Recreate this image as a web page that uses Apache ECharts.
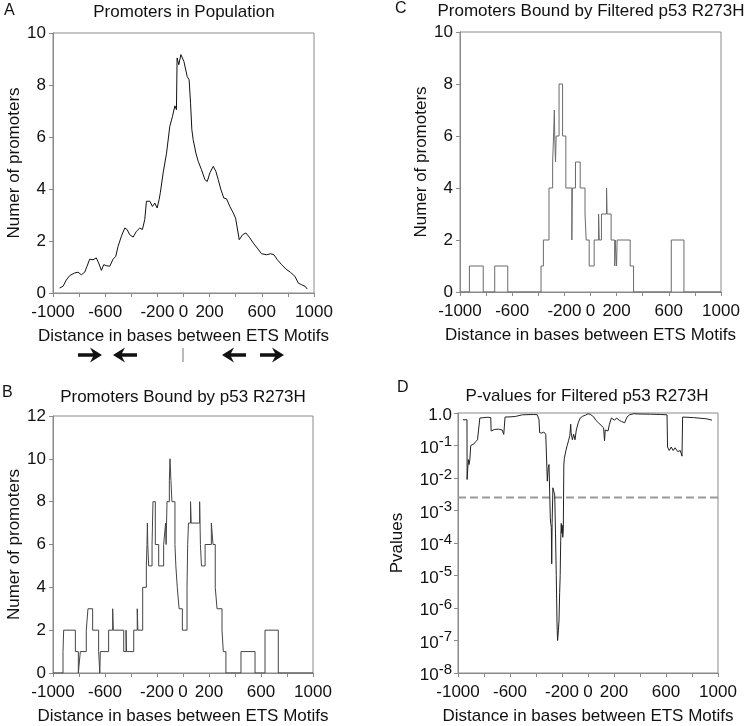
<!DOCTYPE html>
<html>
<head>
<meta charset="utf-8">
<script src="https://cdn.jsdelivr.net/npm/echarts@6/dist/echarts.min.js"></script>
<style>
html,body{margin:0;padding:0;background:#fff;}
#chart{width:748px;height:726px;}
</style>
</head>
<body>
<div id="chart"></div>
<script>
// ---------- DATA ----------
const xLabelsShown = [-1000, -600, -200, 0, 200, 600, 1000];

// Panel A: Promoters in Population  [distance, count]
const populationDist = [-949,-923,-898,-872,-834,-808,-783,-757,-739,-719,-693,-668,-650,-629,-611,-591,-565,-540,-519,-501,-476,-450,-432,-412,-386,-361,-335,-315,-297,-284,-258,-238,-220,-202,-187,-177,-156,-130,-105,-84,-66,-54,-49,-36,-20,-8,3,15,28,43,54,64,74,95,113,138,164,182,202,228,248,266,287,309,330,355,381,399,412,427,453,478,504,535,565,598,637,668,693,719,752,785,821,854,880,905,931,949];
const populationCount = [0.19,0.26,0.5,0.67,0.77,0.8,0.7,0.8,1.03,1.3,1.28,1.35,1.15,0.87,1.09,1.05,1.03,1.3,1.41,1.8,2.18,2.5,2.44,2.24,2.15,2.37,2.5,2.44,2.82,3.53,3.53,3.33,3.46,3.27,3.59,3.87,4.62,5.38,6.41,6.8,7.2,7.05,9.04,8.78,9.17,9.1,8.91,8.95,8.33,8.2,7.3,6.28,5.9,5.38,5.06,4.74,4.36,4.29,4.62,4.87,4.68,4.36,3.97,3.65,3.62,3.33,3.08,2.88,2.82,2.05,2.24,2.31,2.15,1.92,1.73,1.51,1.47,1.51,1.47,1.28,1.09,0.92,0.79,0.64,0.38,0.32,0.26,0.15];

// Panel B: Promoters Bound by p53 R273H (step: value holds from x until next x)
const boundAll = [[-1000,0],[-923,1],[-918,2],[-828,1],[-805,0],[-790,1],[-744,2],[-731,3],[-695,2],[-649,1],[-640,0],[-636,1],[-572,2],[-541,3],[-536,2],[-456,1],[-438,2],[-434,1],[-379,2],[-352,3],[-347,2],[-310,4],[-282,5],[-277,6],[-274,7],[-271,6],[-264,5],[-238,6],[-231,8],[-213,6],[-187,5],[-149,6],[-134,7],[-130,6],[-123,8],[-105,9],[-100,10],[-93,9],[-85,8],[-62,6],[-55,5],[-44,4],[-30,3],[-5,2],[31,4],[36,6],[42,7],[58,8],[63,7],[128,8],[134,6],[142,5],[170,6],[218,7],[231,6],[248,4],[262,3],[300,2],[310,1],[330,0],[446,1],[554,0],[631,2],[733,0],[1000,0]];

// Panel C: Promoters Bound by Filtered p53 R273H
const boundFiltered = [[-1000,0],[-928,1],[-822,0],[-734,1],[-634,0],[-379,1],[-361,2],[-318,4],[-290,5],[-283,6],[-277,7],[-274,6],[-268,5],[-263,6],[-241,8],[-214,6],[-189,4],[-143,2],[-139,4],[-115,5],[-79,4],[-42,3],[-33,2],[-10,1],[28,2],[62,3],[67,2],[84,3],[123,4],[127,3],[158,2],[186,1],[189,2],[200,1],[204,2],[304,1],[330,0],[619,2],[716,0],[1000,0]];

// Panel D: P-values for Filtered p53 R273H
const pValues = [[-962,0.62],[-931,0.62],[-930,0.009],[-925,0.02],[-920,0.037],[-915,0.026],[-909,0.037],[-902,0.1],[-890,0.105],[-877,0.112],[-865,0.13],[-850,0.15],[-836,0.16],[-832,0.7],[-800,0.72],[-770,0.74],[-748,0.72],[-745,0.28],[-720,0.31],[-690,0.32],[-660,0.3],[-648,0.22],[-638,0.75],[-600,0.76],[-560,0.78],[-505,0.88],[-420,0.9],[-390,0.89],[-377,0.62],[-372,0.25],[-356,0.24],[-340,0.26],[-325,0.22],[-318,0.2],[-313,0.008],[-306,0.02],[-300,0.026],[-290,0.0006],[-287,0.0004],[-282,0.0003],[-279,0.000023],[-276,0.0004],[-270,0.005],[-262,0.0055],[-256,0.003],[-250,0.0002],[-244,0.00001],[-238,3e-7],[-234,1e-7],[-228,2e-7],[-223,4e-7],[-218,3e-6],[-214,1e-5],[-210,1.2e-4],[-206,4e-4],[-202,2e-4],[-198,3.5e-4],[-194,1.5e-4],[-190,2.5e-4],[-186,0.025],[-182,0.04],[-170,0.07],[-160,0.1],[-150,0.14],[-140,0.2],[-133,0.45],[-130,0.25],[-120,0.15],[-110,0.22],[-100,0.15],[-90,0.3],[-75,0.5],[-60,0.7],[-40,0.8],[-21,0.85],[0,0.95],[20,0.9],[45,0.75],[60,0.6],[80,0.5],[100,0.42],[120,0.35],[127,0.14],[133,0.3],[154,0.28],[165,0.45],[180,0.7],[190,0.75],[205,0.6],[220,0.7],[240,0.6],[257,0.55],[282,0.5],[290,0.45],[300,0.75],[320,0.88],[351,0.95],[400,0.93],[480,0.92],[560,0.9],[608,0.88],[612,0.09],[625,0.07],[640,0.09],[655,0.07],[670,0.085],[690,0.065],[710,0.07],[723,0.047],[728,0.75],[813,0.72],[915,0.66],[954,0.6]];
const pThreshold = 0.0025;
const thresholdSpan = [-1000, 1000];

// ---------- STYLE ----------
const FONT = 'Liberation Sans, Arial, sans-serif';
const FRAME = '#8a8a8a';
const TXT = '#111';
const xName = 'Distance in bases between ETS Motifs';
const yName = 'Numer of promoters';

const grids = [
  {left: 53, top: 33, width: 261, height: 260},   // A
  {left: 460, top: 32, width: 261, height: 260},  // C
  {left: 53, top: 416, width: 260, height: 260},  // B
  {left: 458, top: 413, width: 260, height: 261}  // D
].map(g => Object.assign({show: true, borderColor: FRAME, borderWidth: 1, containLabel: false}, g));

function xAx(i) {
  return {
    type: 'value', gridIndex: i, min: -1000, max: 1000, interval: 200,
    axisLine: {show: true, onZero: false, lineStyle: {color: FRAME, width: 1}},
    axisTick: {show: true, length: 4, lineStyle: {color: FRAME}},
    splitLine: {show: false},
    axisLabel: {
      show: true, showMinLabel: true, showMaxLabel: true, margin: 11,
      fontSize: 17, color: TXT, fontFamily: FONT,
      formatter: v => xLabelsShown.indexOf(Math.round(v)) >= 0 ? String(Math.round(v)) : ''
    },
    name: xName, nameLocation: 'middle', nameGap: 35,
    nameTextStyle: {fontSize: 17, color: TXT, fontFamily: FONT}
  };
}
function yAx(i, max, gap) {
  return {
    type: 'value', gridIndex: i, min: 0, max: max, interval: 2,
    axisLine: {show: true, onZero: false, lineStyle: {color: FRAME, width: 1}},
    axisTick: {show: true, length: 4, lineStyle: {color: FRAME}},
    splitLine: {show: false},
    axisLabel: {margin: 7, fontSize: 17, color: TXT, fontFamily: FONT},
    name: yName, nameLocation: 'middle', nameGap: gap, nameRotate: 90,
    nameTextStyle: {fontSize: 17, color: TXT, fontFamily: FONT}
  };
}

const yD = {
  type: 'log', logBase: 10, gridIndex: 3, min: 1e-8, max: 1, splitNumber: 8,
  axisLine: {show: true, onZero: false, lineStyle: {color: FRAME, width: 1}},
  axisTick: {show: true, length: 4, lineStyle: {color: FRAME}},
  splitLine: {show: false},
  axisLabel: {
    margin: 6, color: TXT, fontFamily: FONT,
    formatter: function (v) {
      const e = Math.round(Math.log10(v));
      if (e === 0) return '{b|1.0}';
      return '{b|10}{s|' + e + '}';
    },
    rich: {
      b: {fontSize: 17, lineHeight: 22, color: TXT, fontFamily: FONT, verticalAlign: 'bottom'},
      s: {fontSize: 15, lineHeight: 15, color: TXT, fontFamily: FONT, verticalAlign: 'top'}
    }
  },
  name: 'Pvalues', nameLocation: 'middle', nameGap: 52, nameRotate: 90,
  nameTextStyle: {fontSize: 17, color: TXT, fontFamily: FONT}
};

function titleAt(text, cx, top) {
  return {text: text, left: cx, top: top, textAlign: 'center', padding: 0,
    textStyle: {fontSize: 17, fontWeight: 'normal', color: TXT, fontFamily: FONT}};
}
function letter(t, x, y) {
  return {type: 'text', left: x, top: y, style: {text: t, fontSize: 16, fill: TXT, fontFamily: FONT}};
}
function arrow(tipX, cy, dir) {
  const s = dir;
  const pts = [[0,0],[-12,-7.5],[-9,-1.8],[-24,-1.8],[-24,1.8],[-9,1.8],[-12,7.5]].map(p => [tipX + s * p[0], cy + p[1]]);
  return {type: 'polygon', shape: {points: pts}, style: {fill: '#111'}};
}

const option = {
  animation: false,
  backgroundColor: '#fff',
  title: [
    titleAt('Promoters in Population', 184, 4),
    titleAt('Promoters Bound by Filtered p53 R273H', 591, 3),
    titleAt('Promoters Bound by p53 R273H', 183, 389),
    titleAt('P-values for Filtered p53 R273H', 587, 388)
  ],
  grid: grids,
  xAxis: [xAx(0), xAx(1), xAx(2), xAx(3)],
  yAxis: [yAx(0, 10, 26), yAx(1, 10, 26), yAx(2, 12, 30), yD],
  series: [
    {type: 'line', xAxisIndex: 0, yAxisIndex: 0, showSymbol: false,
     data: populationDist.map((d, i) => [d, populationCount[i]]),
     lineStyle: {color: '#111', width: 1}},
    {type: 'line', xAxisIndex: 1, yAxisIndex: 1, showSymbol: false, step: 'end',
     data: boundFiltered, lineStyle: {color: '#6a6a6a', width: 1}},
    {type: 'line', xAxisIndex: 2, yAxisIndex: 2, showSymbol: false, step: 'end',
     data: boundAll, lineStyle: {color: '#444', width: 1}},
    {type: 'line', xAxisIndex: 3, yAxisIndex: 3, showSymbol: false,
     data: thresholdSpan.map(x => [x, pThreshold]),
     lineStyle: {color: '#999', width: 2, type: [8, 4]}, z: 1},
    {type: 'line', xAxisIndex: 3, yAxisIndex: 3, showSymbol: false,
     data: pValues, lineStyle: {color: '#222', width: 1}, z: 2}
  ],
  graphic: [
    letter('A', 4, 3), letter('C', 395, 1), letter('B', 2, 385), letter('D', 397, 380),
    arrow(102, 355, 1), arrow(113, 355, -1), arrow(222, 355, -1), arrow(284, 355, 1),
    {type: 'line', shape: {x1: 183, y1: 348, x2: 183, y2: 362}, style: {stroke: '#777', lineWidth: 1}}
  ]
};

const chart = echarts.init(document.getElementById('chart'), null, {renderer: 'canvas'});
chart.setOption(option);
</script>
</body>
</html>
